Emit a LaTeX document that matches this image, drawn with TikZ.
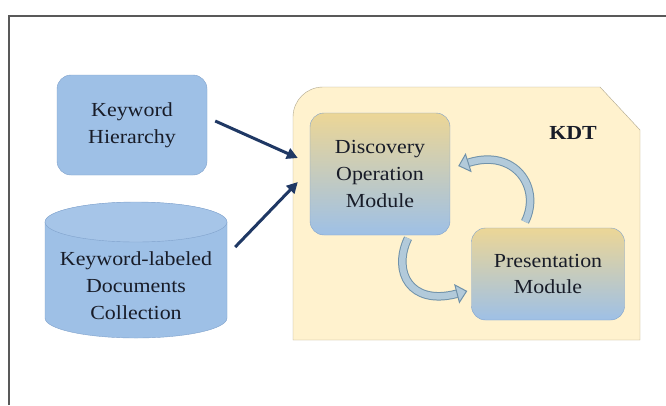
\documentclass[tikz,border=0pt]{standalone}
\usepackage{fontspec}
\setmainfont{Liberation Serif}[FakeStretch=1.1]
\usetikzlibrary{arrows.meta}
\definecolor{boxblue}{RGB}{158,192,230}
\definecolor{boxedge}{RGB}{128,162,204}
\definecolor{boxtan}{RGB}{236,214,150}
\definecolor{kdtfill}{RGB}{255,242,206}
\definecolor{kdtedge}{RGB}{176,168,142}
\definecolor{navy}{RGB}{31,56,100}
\definecolor{loopfill}{RGB}{178,202,218}
\definecolor{loopedge}{RGB}{112,146,170}
\definecolor{inktext}{RGB}{24,28,40}
\begin{document}
\begin{tikzpicture}[x=1bp,y=1bp,
  every node/.style={font=\fontsize{20}{27}\selectfont,text=inktext,align=center},
  plainbox/.style={draw=boxedge,fill=boxblue,rounded corners=14bp},
  modbox/.style={draw=boxedge,rounded corners=14bp,top color=boxtan,middle color=boxblue!85!white,bottom color=boxblue},
  feed/.style={navy,line width=3bp,-{Triangle[length=11bp,width=11bp]}},
  loop/.style={draw=loopedge,line width=1bp,double=loopfill,double distance=6.5bp,
    -{Triangle[length=11bp,width=20bp,fill=loopfill]}}]
\useasboundingbox (0,0) rectangle (666,-405);
\fill[white] (0,0) rectangle (666,-405);
\draw[line width=2bp,black!65] (9,-405) -- (9,-16) -- (666,-16);

\draw[draw=kdtedge,fill=kdtfill] (293,-340) -- (293,-117) arc[start angle=180,end angle=90,radius=30bp]
  -- (600,-87) -- (640,-130) -- (640,-340) -- cycle;
\node[font=\fontsize{20}{24}\selectfont\bfseries] (kdt) at (573,-133) {KDT};

\node[plainbox,minimum width=150bp,minimum height=100bp] (hier) at (132,-125) {Keyword\\Hierarchy};

\fill[boxblue] (45,-222) -- (45,-318) arc[start angle=180,end angle=360,x radius=91bp,y radius=20bp]
  -- (227,-222) arc[start angle=0,end angle=180,x radius=91bp,y radius=20bp] -- cycle;
\draw[boxedge] (45,-222) -- (45,-318) arc[start angle=180,end angle=360,x radius=91bp,y radius=20bp] -- (227,-222);
\draw[boxedge,fill=boxblue!92!white] (136,-222) ellipse[x radius=91bp,y radius=20bp];
\node[minimum width=182bp] (docs) at (136,-286) {Keyword-labeled\\Documents\\Collection};

\node[modbox,minimum width=140bp,minimum height=122bp,text depth=-3bp] (disc) at (380,-174) {Discovery\\Operation\\Module};
\node[modbox,minimum width=153bp,minimum height=92bp] (pres) at (548,-274) {Presentation\\Module};

\draw[feed] ([xshift=8bp,yshift=4bp]hier.east) -- ([xshift=-12bp,yshift=16bp]disc.west);
\draw[feed] ([xshift=8bp,yshift=39bp]docs.east) -- ([xshift=-12bp,yshift=-8bp]disc.west);

\draw[loop] ([xshift=-23bp,yshift=6bp]pres.north) .. controls (542,-188) and (515,-148) .. ([xshift=8bp,yshift=8bp]disc.east);
\draw[loop] ([xshift=28bp,yshift=-3bp]disc.south) .. controls (392,-272) and (410,-306) .. ([xshift=-4bp,yshift=-17bp]pres.west);
\end{tikzpicture}
\end{document}
